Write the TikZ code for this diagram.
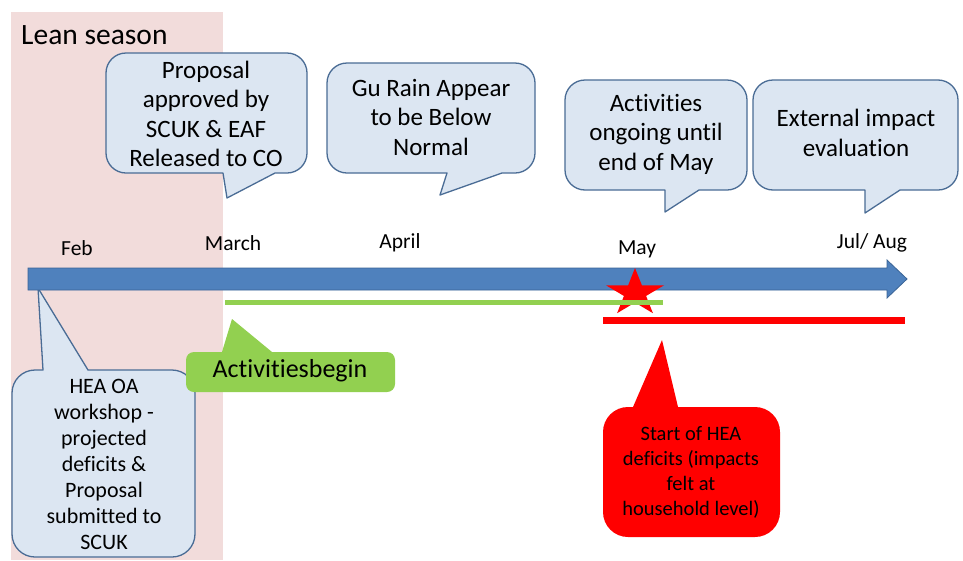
\documentclass[tikz,border=0pt]{standalone}
\usepackage{fontspec}
\setmainfont{Carlito}[Ligatures=NoCommon]
\definecolor{leanpink}{HTML}{F2DCDB}
\definecolor{callfill}{HTML}{DCE6F2}
\definecolor{calldraw}{HTML}{4A6C95}
\definecolor{arrowblue}{HTML}{4F81BD}
\definecolor{arrowedge}{HTML}{3A6496}
\definecolor{actgreen}{HTML}{92D050}
\tikzset{
  bluecall/.style={fill=callfill, draw=calldraw, line width=1.3pt, line join=round},
  calltext/.style={align=center, inner sep=0pt, font=\fontsize{25}{29.5}\selectfont},
  monthlabel/.style={inner sep=0pt, font=\fontsize{21.5}{25}\selectfont},
}
\begin{document}
\begin{tikzpicture}[x=1pt,y=-1pt]
\useasboundingbox (0,0) rectangle (963,560);
\fill[white] (0,0) rectangle (963,560);
\fill[leanpink] (11,12) rectangle (223,560);
\node[anchor=west, inner sep=0pt, font=\fontsize{29.5}{34}\selectfont] (lean) at (21,35) {Lean season};

% callout 1
\draw[bluecall] (227,198) -- (223,173) [rounded corners=20pt] -- (106,173) -- (106,53) -- (307,53) -- (307,173) [sharp corners] -- (275,173) -- cycle;
\node[calltext] (c1) at (206,114) {Proposal\\approved by\\SCUK \& EAF\\Released to CO};

% callout 2
\draw[bluecall] (440,195) -- (447,173) [rounded corners=20pt] -- (327,173) -- (327,63) -- (535,63) -- (535,173) [sharp corners] -- (502,173) -- cycle;
\node[calltext] (c2) at (431,117) {Gu Rain Appear\\to be Below\\Normal};

% callout 3
\draw[bluecall] (665,212) -- (665,190) [rounded corners=20pt] -- (565,190) -- (565,80) -- (747,80) -- (747,190) [sharp corners] -- (699,190) -- cycle;
\node[calltext] (c3) at (656,134) {Activities\\ongoing until\\end of May};

% callout 4
\draw[bluecall] (865,213) -- (865,190) [rounded corners=20pt] -- (753,190) -- (753,80) -- (958,80) -- (958,190) [sharp corners] -- (900,190) -- cycle;
\node[calltext] (c4) at (856,133) {External impact\\evaluation};

% callout 5
\draw[bluecall] (38,288) -- (88,370) [rounded corners=23pt] -- (195,370) -- (195,557) -- (12,557) -- (12,370) [sharp corners] -- (43,370) -- cycle;
\node[align=center, inner sep=0pt, font=\fontsize{22}{26}\selectfont] (c5) at (104,464) {HEA OA\\workshop -\\projected\\deficits \&\\Proposal\\submitted to\\SCUK};

% callout 6 (green)
\fill[actgreen] (232,319) -- (272,352) [rounded corners=8pt] -- (395,352) -- (395,392) -- (186,392) -- (186,352) [sharp corners] -- (222,352) -- cycle;
\node[inner sep=0pt, font=\fontsize{26}{30}\selectfont] (c6) at (290,371) {Activitiesbegin};

% callout 7 (red)
\fill[red] (662,340) -- (678,407) [rounded corners=25pt] -- (780,407) -- (780,537) -- (603,537) -- (603,407) [sharp corners] -- (633,407) -- cycle;
\node[align=center, inner sep=0pt, font=\fontsize{20.5}{25}\selectfont] (c7) at (691,472) {Start of HEA\\deficits (impacts\\felt at\\household level)};

% timeline arrow
\draw[fill=arrowblue, draw=arrowedge, line width=0.8pt, line join=miter]
  (28,268) -- (887,268) -- (887,260) -- (907,279) -- (887,298) -- (887,290) -- (28,290) -- cycle;

% month labels
\node[monthlabel] (feb) at (77,248) {Feb};
\node[monthlabel] (mar) at (233,243) {March};
\node[monthlabel] (apr) at (400,243) {April};
\node[monthlabel] (may) at (637,249) {May};
\node[monthlabel] (jul) at (872,243) {Jul/ Aug};

% star
\fill[red] (635,268) -- (641.85,285.27) -- (664.0,285.3) -- (646.08,295.95) -- (652.93,313.2)
  -- (635,302.55) -- (617.07,313.2) -- (623.92,295.95) -- (606.0,285.3) -- (628.15,285.27) -- cycle;

% period bars
\draw[actgreen, line width=5pt] (225,302) -- (663,302);
\draw[red, line width=7pt] (603,320) -- (905,320);
\end{tikzpicture}
\end{document}
